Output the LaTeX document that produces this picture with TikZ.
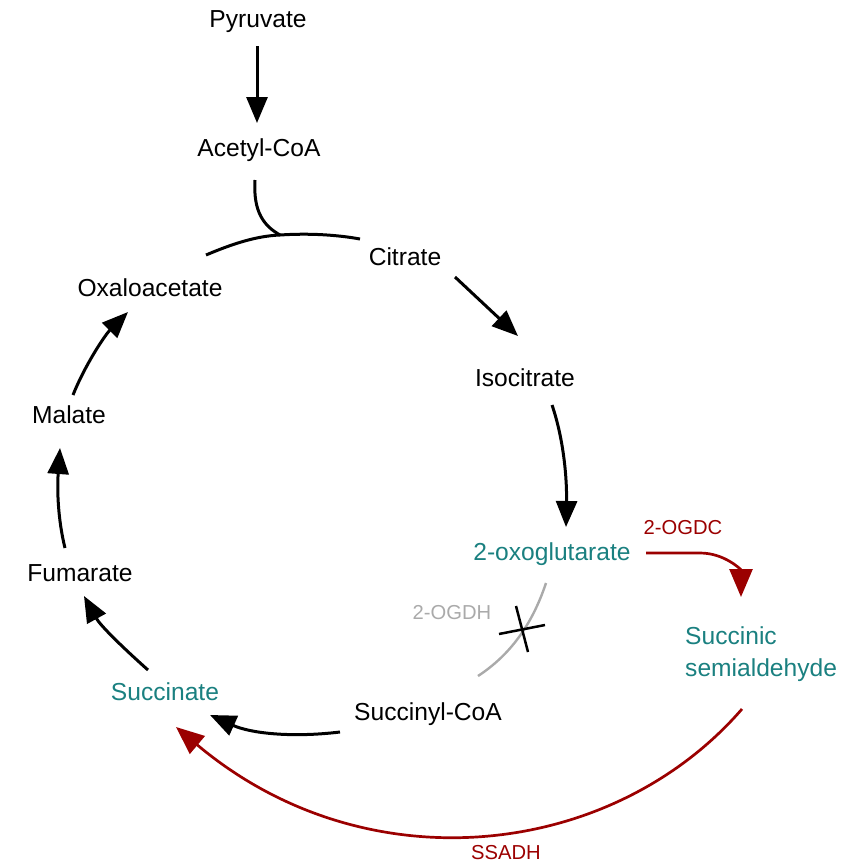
\documentclass[tikz,border=0pt]{standalone}
\usepackage{fontspec}
\setmainfont{Liberation Sans}
\usetikzlibrary{arrows.meta}
\definecolor{tealtxt}{RGB}{26,128,128}
\definecolor{darkred}{RGB}{155,0,0}
\definecolor{greyline}{RGB}{170,170,170}
\tikzset{
  lbl/.style={font=\fontsize{24.6}{32}\selectfont, inner sep=0pt},
  enz/.style={font=\fontsize{20.2}{24}\selectfont, inner sep=0pt},
  ln/.style={line width=3pt, black},
  arr/.style={line width=3pt, black, -{Triangle[length=26pt,width=21pt]}},
  redarr/.style={line width=2.7pt, darkred, -{Triangle[length=28pt,width=23pt]}},
  greyln/.style={line width=2.4pt, greyline},
  crossln/.style={line width=2.5pt, black}
}
\begin{document}
\begin{tikzpicture}[x=1pt,y=-1pt]
\useasboundingbox (0,0) rectangle (844,865);
% labels
\node[lbl] (pyr) at (258,22) {Pyruvate};
\node[lbl] (acc) at (259,150) {Acetyl-CoA};
\node[lbl] (cit) at (405,257) {Citrate};
\node[lbl] (oxa) at (150,288) {Oxaloacetate};
\node[lbl] (iso) at (525,378) {Isocitrate};
\node[lbl] (mal) at (69,415) {Malate};
\node[lbl,text=tealtxt] (oxo) at (552,554) {2-oxoglutarate};
\node[lbl] (fum) at (80,573) {Fumarate};
\node[lbl,text=tealtxt,align=left,anchor=west] (ssa) at (685,654) {Succinic\\semialdehyde};
\node[lbl,text=tealtxt] (suc) at (165,692) {Succinate};
\node[lbl] (sca) at (428,714) {Succinyl-CoA};
\node[enz,text=darkred] (ogdc) at (683,528) {2-OGDC};
\node[enz,text=greyline] (ogdh) at (452,613) {2-OGDH};
\node[enz,text=darkred] (ssadh) at (506,853) {SSADH};
% connector end points
\coordinate (pyrS) at (257,46);
\coordinate (accN) at (257,123);
\coordinate (accS) at (255,180);
\coordinate (join) at (280,235);
\coordinate (oxaE) at (206,255);
\coordinate (citW) at (360,239);
\coordinate (citS) at (455,277);
\coordinate (isoN) at (518,336);
\coordinate (isoS) at (552,405);
\coordinate (oxoN) at (566,527);
\coordinate (oxoS) at (546,583);
\coordinate (scaN) at (478,676);
\coordinate (scaW) at (340,732);
\coordinate (sucE) at (210,715);
\coordinate (sucN) at (148,670);
\coordinate (fumS) at (84,596);
\coordinate (fumN) at (65,548);
\coordinate (malS) at (60,448);
\coordinate (malN) at (73,395);
\coordinate (oxaS) at (128,312);
\coordinate (oxoE) at (646,553);
\coordinate (bend) at (700,553);
\coordinate (ssaN) at (741,597);
\coordinate (ssaS) at (742,709);
\coordinate (sucS) at (176,727);
% cycle
\draw[arr] (pyrS) -- (accN);
\draw[ln] (accS) .. controls (253,212) and (264,226) .. (join);
\draw[ln] (oxaE) .. controls (232,244) and (256,236) .. (join) .. controls (310,233) and (338,235) .. (citW);
\draw[arr] (citS) -- (isoN);
\draw[arr] (isoS) .. controls (564,440) and (567,480) .. (oxoN);
\draw[greyln] (oxoS) .. controls (532,625) and (510,655) .. (scaN);
\draw[crossln] (499,634) -- (545,625);
\draw[crossln] (516,606) -- (528,652);
\draw[arr] (scaW) .. controls (290,738) and (250,733) .. (sucE);
\draw[arr] (sucN) .. controls (120,645) and (100,625) .. (fumS);
\draw[arr] (fumN) .. controls (58,520) and (57,490) .. (malS);
\draw[arr] (malN) .. controls (85,365) and (105,335) .. (oxaS);
% shunt
\draw[redarr] (oxoE) -- (bend) .. controls (725,553) and (741,570) .. (ssaN);
\draw[redarr] (ssaS) .. controls (612,859) and (366,887) .. (sucS);
\end{tikzpicture}
\end{document}
